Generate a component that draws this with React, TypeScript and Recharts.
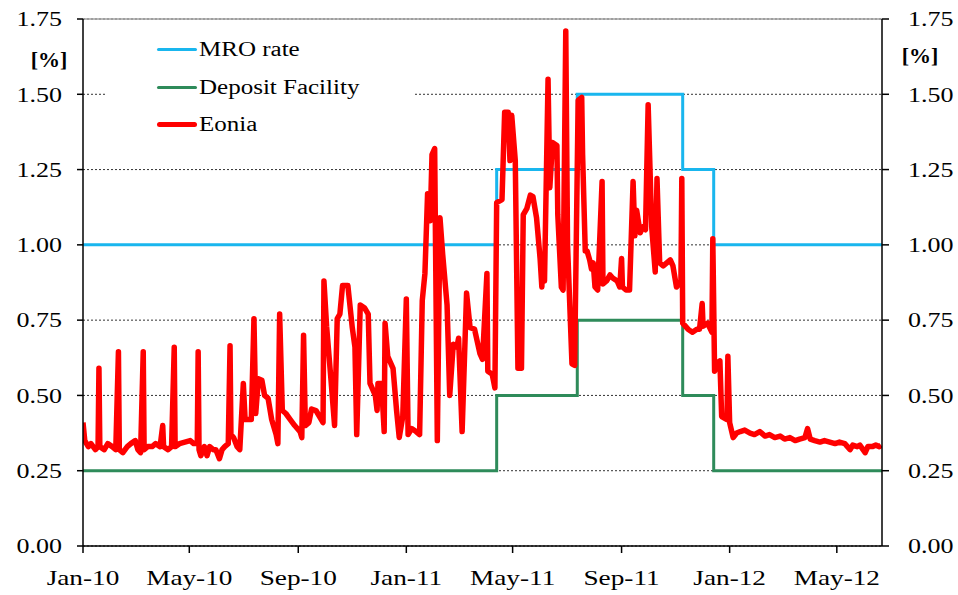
import { CartesianGrid, Line, LineChart, ReferenceLine, XAxis, YAxis } from "recharts";

// x values are days counted from 1 Jan 2010
const xTicks = [0, 120, 243, 365, 485, 608, 730, 851];
const xTickLabels = ["Jan-10", "May-10", "Sep-10", "Jan-11", "May-11", "Sep-11", "Jan-12", "May-12"];
const yTicks = [0, 0.25, 0.5, 0.75, 1.0, 1.25, 1.5, 1.75];

const mroRate: [number, number][] = [
  [0, 1.0], [467, 1.25], [558, 1.5], [677, 1.25], [712, 1.0], [902, 1.0],
];

const depositFacility: [number, number][] = [
  [0, 0.25], [467, 0.5], [558, 0.75], [677, 0.5], [712, 0.25], [902, 0.25],
];

const eonia: [number, number][] = [
  [0, 0.41], [2, 0.35], [6, 0.33], [9, 0.34], [14, 0.32], [17, 0.33], [18, 0.59], [19, 0.33],
  [24, 0.32], [28, 0.34], [33, 0.33], [37, 0.32], [40, 0.645], [41, 0.32], [45, 0.31], [50, 0.33],
  [54, 0.34], [59, 0.35], [62, 0.32], [65, 0.31], [68, 0.645], [69, 0.32], [73, 0.33], [78, 0.33],
  [82, 0.34], [87, 0.33], [90, 0.4], [91, 0.33], [96, 0.32], [100, 0.33], [103, 0.66], [104, 0.33],
  [109, 0.34], [115, 0.345], [121, 0.35], [125, 0.34], [129, 0.34], [130, 0.645], [131, 0.32], [133, 0.3],
  [137, 0.33], [140, 0.3], [143, 0.33], [147, 0.32], [150, 0.32], [154, 0.29], [157, 0.32], [160, 0.33],
  [164, 0.34], [166, 0.665], [167, 0.37], [170, 0.36], [174, 0.33], [177, 0.32], [181, 0.54], [183, 0.42],
  [186, 0.42], [190, 0.42], [193, 0.755], [195, 0.44], [198, 0.555], [202, 0.55], [205, 0.5], [209, 0.49],
  [213, 0.42], [218, 0.37], [220, 0.34], [222, 0.77], [225, 0.45], [229, 0.44], [234, 0.42], [239, 0.4],
  [245, 0.38], [247, 0.36], [249, 0.7], [251, 0.4], [255, 0.41], [258, 0.455], [263, 0.45], [267, 0.43],
  [271, 0.41], [272, 0.88], [275, 0.73], [280, 0.55], [284, 0.4], [287, 0.755], [290, 0.77], [293, 0.865],
  [299, 0.865], [304, 0.725], [307, 0.66], [309, 0.37], [313, 0.8], [318, 0.79], [322, 0.77], [324, 0.54],
  [330, 0.5], [332, 0.45], [333, 0.54], [337, 0.54], [340, 0.38], [341, 0.74], [344, 0.63], [350, 0.59],
  [354, 0.45], [357, 0.36], [361, 0.43], [365, 0.82], [367, 0.37], [371, 0.39], [376, 0.38], [380, 0.37],
  [383, 0.815], [386, 0.905], [389, 1.17], [392, 1.08], [394, 1.3], [397, 1.32], [400, 0.35], [403, 1.09],
  [406, 0.97], [411, 0.8], [414, 0.5], [418, 0.67], [422, 0.66], [424, 0.69], [428, 0.38], [433, 0.84],
  [437, 0.725], [442, 0.72], [448, 0.64], [451, 0.62], [456, 0.905], [457, 0.58], [462, 0.57], [465, 0.525],
  [467, 1.14], [473, 1.15], [476, 1.44], [480, 1.44], [482, 1.28], [484, 1.43], [488, 1.28], [491, 0.59],
  [495, 0.59], [497, 1.1], [501, 1.12], [505, 1.165], [508, 1.16], [512, 1.09], [516, 0.955], [518, 0.86],
  [519, 0.96], [521, 0.88], [525, 1.55], [527, 1.19], [530, 1.34], [535, 1.33], [536, 1.1], [540, 0.86],
  [542, 0.85], [545, 1.71], [547, 1.0], [552, 0.605], [555, 0.6], [559, 1.48], [563, 1.49], [564, 1.3],
  [567, 0.98], [569, 0.98], [572, 0.95], [574, 0.92], [576, 0.94], [578, 0.86], [581, 0.85], [586, 1.21],
  [587, 0.87], [591, 0.88], [595, 0.9], [598, 0.89], [603, 0.88], [606, 0.86], [608, 0.955], [609, 0.86],
  [613, 0.85], [617, 0.85], [621, 1.21], [623, 1.03], [625, 1.115], [629, 1.04], [632, 1.06], [635, 1.05],
  [638, 1.465], [642, 1.06], [646, 0.91], [648, 1.22], [651, 0.94], [655, 0.93], [659, 0.94], [663, 0.95],
  [666, 0.93], [670, 0.86], [675, 0.88], [676, 1.22], [677, 0.74], [683, 0.72], [688, 0.71], [693, 0.72],
  [696, 0.72], [699, 0.805], [700, 0.73], [705, 0.74], [710, 0.71], [711, 1.02], [713, 0.58], [717, 0.61],
  [719, 0.615], [721, 0.43], [727, 0.42], [728, 0.63], [730, 0.41], [734, 0.36], [738, 0.375], [742, 0.38],
  [747, 0.385], [753, 0.375], [758, 0.37], [764, 0.38], [770, 0.365], [775, 0.37], [781, 0.36], [787, 0.365],
  [792, 0.355], [798, 0.36], [804, 0.35], [809, 0.355], [815, 0.36], [818, 0.39], [821, 0.355], [826, 0.35],
  [832, 0.345], [837, 0.35], [843, 0.345], [849, 0.34], [854, 0.345], [860, 0.34], [866, 0.32], [869, 0.335],
  [874, 0.33], [877, 0.335], [883, 0.31], [886, 0.33], [891, 0.33], [895, 0.335], [899, 0.33], [901, 0.335],
];

const FONT = '"Liberation Serif", "Times New Roman", serif';
const STRETCH = 1.24;

const toRows = (pts: [number, number][]) => pts.map(([d, v]) => ({ d, v }));

function YTick({ x, y, payload, anchor }: any) {
  return (
    <text
      transform={`translate(${x},${y}) scale(${STRETCH},1)`}
      textAnchor={anchor}
      dy="0.35em"
      fontFamily={FONT}
      fontSize={21}
      fill="#000"
    >
      {Number(payload.value).toFixed(2)}
    </text>
  );
}

function XTick({ x, y, payload }: any) {
  const label = xTickLabels[xTicks.indexOf(payload.value)] ?? "";
  return (
    <text
      transform={`translate(${x},${y}) scale(${STRETCH},1)`}
      textAnchor="middle"
      dy={32}
      fontFamily={FONT}
      fontSize={22}
      fill="#000"
    >
      {label}
    </text>
  );
}

const legendItems = [
  { label: "MRO rate", color: "#19B6EE", width: 3, y: 49 },
  { label: "Deposit Facility", color: "#2E8B5A", width: 3, y: 87 },
  { label: "Eonia", color: "#FF0000", width: 5, y: 124 },
];

export default function App() {
  return (
    <div style={{ position: "absolute", left: 0, top: 0, width: 958, height: 595, background: "#fff" }}>
      <LineChart width={958} height={595} margin={{ top: 19, right: 0, bottom: 0, left: 0 }}>
        <CartesianGrid vertical={false} stroke="#333" strokeDasharray="2 2" strokeWidth={1} />
        <XAxis
          type="number"
          dataKey="d"
          domain={[0, 902]}
          ticks={xTicks}
          allowDataOverflow
          height={49}
          tickSize={7}
          tickMargin={0}
          tick={<XTick />}
          axisLine={{ stroke: "#000", strokeWidth: 1.5 }}
          tickLine={{ stroke: "#000", strokeWidth: 1.5 }}
        />
        <YAxis
          type="number"
          domain={[0, 1.75]}
          ticks={yTicks}
          allowDataOverflow
          width={83}
          tickSize={6}
          tickMargin={15}
          tick={<YTick anchor="end" />}
          axisLine={{ stroke: "#000", strokeWidth: 1.5 }}
          tickLine={{ stroke: "#000", strokeWidth: 1.5 }}
        />
        <YAxis
          yAxisId="right"
          orientation="right"
          type="number"
          domain={[0, 1.75]}
          ticks={yTicks}
          allowDataOverflow
          width={76}
          tickSize={7}
          tickMargin={19}
          tick={<YTick anchor="start" />}
          axisLine={{ stroke: "#000", strokeWidth: 1.5 }}
          tickLine={{ stroke: "#000", strokeWidth: 1.5 }}
        />
        <ReferenceLine y={1.75} stroke="#a0a0a0" strokeWidth={1.5} />
        <Line
          data={toRows(mroRate)}
          dataKey="v"
          type="stepAfter"
          stroke="#19B6EE"
          strokeWidth={3}
          dot={false}
          isAnimationActive={false}
        />
        <Line
          data={toRows(depositFacility)}
          dataKey="v"
          yAxisId="right"
          type="stepAfter"
          stroke="#2E8B5A"
          strokeWidth={3}
          dot={false}
          isAnimationActive={false}
        />
        <Line
          data={toRows(eonia)}
          dataKey="v"
          type="linear"
          stroke="#FF0000"
          strokeWidth={5.5}
          strokeLinejoin="round"
          dot={false}
          isAnimationActive={false}
        />
      </LineChart>

      <div
        style={{
          position: "absolute",
          left: 105,
          top: 30,
          width: 308,
          height: 112,
          background: "#fff",
        }}
      >
        {legendItems.map((item) => (
          <div key={item.label}>
            <div
              style={{
                position: "absolute",
                left: 52,
                top: item.y - 30 - item.width / 2,
                width: 40,
                height: item.width,
                background: item.color,
                borderRadius: item.width / 2,
              }}
            />
            <div
              style={{
                position: "absolute",
                left: 94,
                top: item.y - 30 - 12,
                lineHeight: "24px",
                fontFamily: FONT,
                fontSize: 20,
                whiteSpace: "nowrap",
                transform: "scaleX(1.25)",
                transformOrigin: "left center",
                color: "#000",
              }}
            >
              {item.label}
            </div>
          </div>
        ))}
      </div>

      {[
        { cx: 49, cy: 60 },
        { cx: 920, cy: 56 },
      ].map((p, i) => (
        <div
          key={i}
          style={{
            position: "absolute",
            left: p.cx - 30,
            top: p.cy - 12,
            width: 60,
            textAlign: "center",
            lineHeight: "24px",
            fontFamily: FONT,
            fontSize: 20,
            fontWeight: "bold",
            transform: "scaleX(1.1)",
            color: "#000",
          }}
        >
          [%]
        </div>
      ))}
    </div>
  );
}
